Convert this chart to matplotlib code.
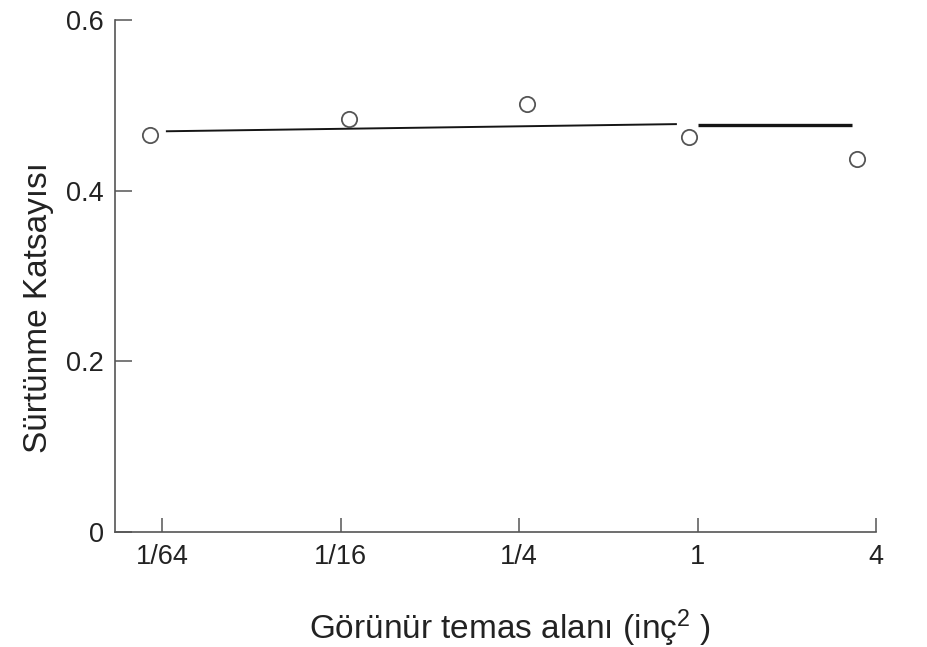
import matplotlib
matplotlib.use("Agg")
import matplotlib.pyplot as plt
from matplotlib.ticker import FixedLocator, FixedFormatter, NullLocator

plt.rcParams['font.family'] = ['Liberation Sans', 'DejaVu Sans']
plt.rcParams['mathtext.default'] = 'regular'

# Data
area = [0.01424, 0.0665, 0.265, 0.935, 3.46]          # in^2
mu = [0.465, 0.484, 0.502, 0.463, 0.437]
fit1_x = [0.0161, 0.852]
fit1_y = [0.4696, 0.478]
fit2_x = [1.003, 3.32]
fit2_y = [0.477, 0.477]

xticks = [1/64, 1/16, 1/4, 1, 4]
xticklabels = ['1/64', '1/16', '1/4', '1', '4']
yticks = [0, 0.2, 0.4, 0.6]
yticklabels = ['0', '0.2', '0.4', '0.6']

W, H = 927, 647
fig = plt.figure(figsize=(W / 100, H / 100), dpi=100)
ax = fig.add_axes([115 / W, (H - 532) / H, (876 - 115) / W, (532 - 20) / H])

ax.plot(fit1_x, fit1_y, color='#151515', lw=1.4, solid_capstyle='butt')
ax.plot(fit2_x, fit2_y, color='#151515', lw=2.4, solid_capstyle='butt')
ax.plot(area, mu, linestyle='none', marker='o', ms=11, mfc='white',
        mec='#555555', mew=1.3)

ax.set_xscale('log', base=2)
ax.set_xlim(2 ** -6.527, 4)
ax.set_ylim(0, 0.6)

ax.xaxis.set_major_locator(FixedLocator(xticks))
ax.xaxis.set_major_formatter(FixedFormatter(xticklabels))
ax.xaxis.set_minor_locator(NullLocator())
ax.yaxis.set_major_locator(FixedLocator(yticks))
ax.yaxis.set_major_formatter(FixedFormatter(yticklabels))

for s in ['top', 'right']:
    ax.spines[s].set_visible(False)
for s in ['left', 'bottom']:
    ax.spines[s].set_color('#555555')
    ax.spines[s].set_linewidth(1.2)

ax.tick_params(axis='x', direction='in', length=10, width=1.1, color='#555555',
               labelsize=19.5, labelcolor='#222222', pad=9)
ax.tick_params(axis='y', direction='in', length=12.5, width=1.1, color='#555555',
               labelsize=19.5, labelcolor='#222222', pad=8)

ax.set_xlabel('Görünür temas alanı (inç$^{2}$ )', fontsize=24, color='#222222')
ax.set_ylabel('Sürtünme Katsayısı', fontsize=24, color='#222222')
ax.xaxis.label.set_va('center')
ax.yaxis.label.set_va('center')
ax.xaxis.set_label_coords(0.519, -0.1875)
ax.yaxis.set_label_coords(-0.101, 0.4375)

fig.savefig('out.png', dpi=100, facecolor='white')
